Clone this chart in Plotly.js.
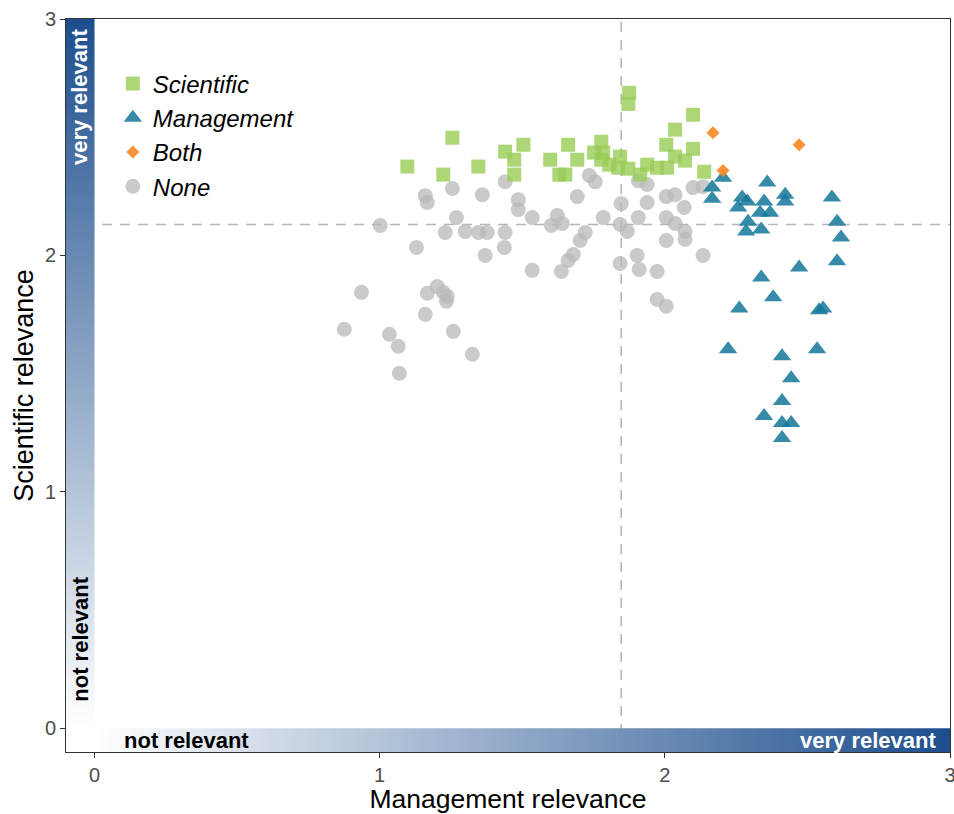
<!DOCTYPE html>
<html><head><meta charset="utf-8">
<script src="https://cdn.plot.ly/plotly-3.0.1.min.js"></script>
<style>html,body{margin:0;padding:0;background:#fff}#chart{width:954px;height:814px}</style>
</head><body><div id="chart"></div>
<script>
// Scientific relevance only (green squares)
const sciX=[1.097,1.255,1.223,1.346,1.440,1.504,1.472,1.472,1.598,1.661,1.693,1.630,1.651,1.777,1.752,1.784,1.777,1.805,1.843,1.836,1.872,1.914,1.938,1.973,2.008,2.036,2.071,2.099,2.036,2.005,2.099,2.138,1.875,1.872];
const sciY=[2.376,2.498,2.342,2.376,2.439,2.468,2.405,2.342,2.405,2.468,2.405,2.342,2.342,2.481,2.435,2.435,2.405,2.384,2.418,2.371,2.367,2.342,2.384,2.371,2.371,2.418,2.401,2.451,2.532,2.468,2.595,2.354,2.688,2.641];
// Management relevance only (blue triangles)
const mgmtX=[2.204,2.166,2.166,2.359,2.271,2.289,2.257,2.348,2.422,2.422,2.334,2.369,2.292,2.285,2.338,2.586,2.604,2.618,2.604,2.471,2.338,2.380,2.261,2.541,2.555,2.222,2.411,2.534,2.443,2.411,2.348,2.411,2.443,2.411];
const mgmtY=[2.329,2.287,2.240,2.308,2.245,2.228,2.203,2.228,2.257,2.228,2.181,2.181,2.143,2.101,2.110,2.245,2.143,2.076,1.975,1.949,1.907,1.823,1.776,1.768,1.776,1.603,1.574,1.603,1.481,1.384,1.321,1.291,1.291,1.228];
// Both (orange diamonds)
const bothX=[2.169,2.471,2.204];
const bothY=[2.519,2.468,2.359];
// None (grey circles)
const noneX=[0.936,0.876,1.034,1.065,1.069,1.167,1.202,1.223,1.237,1.234,1.160,1.258,1.325,1.002,1.160,1.167,1.255,1.360,1.440,1.486,1.486,1.269,1.230,1.300,1.346,1.377,1.440,1.437,1.370,1.129,1.535,1.535,1.602,1.623,1.640,1.693,1.735,1.756,1.784,1.847,1.843,1.868,1.907,1.938,1.907,1.938,2.005,2.036,2.005,2.036,2.068,2.099,2.134,2.071,2.071,2.005,1.721,1.703,1.679,1.661,1.637,1.843,1.903,1.910,1.973,2.134,1.973,2.005];
const noneY=[1.844,1.688,1.667,1.616,1.502,1.840,1.869,1.844,1.827,1.806,1.751,1.679,1.582,2.127,2.253,2.224,2.283,2.257,2.312,2.236,2.194,2.160,2.097,2.101,2.097,2.097,2.097,2.034,2.000,2.034,2.160,1.937,2.127,2.169,2.135,2.249,2.338,2.312,2.160,2.219,2.131,2.101,2.316,2.300,2.160,2.224,2.249,2.257,2.160,2.135,2.203,2.287,2.291,2.101,2.068,2.063,2.097,2.063,2.004,1.979,1.932,1.966,2.000,1.941,1.932,2.000,1.814,1.785];
// reference lines (means)
const meanMgmt=1.847;
const meanSci=2.131;
const tickVals=[0,1,2,3];
const axisRange=[-0.1,3];

const FONT='Liberation Sans, Arial, sans-serif';
const gradScale=[[0,'#ffffff'],[1,'#1d4e8d']];

const lo=axisRange[0], hi=axisRange[1];
const traces=[
  {x:[0,hi,hi,0,0],y:[lo,lo,0,0,lo],mode:'none',fill:'toself',
   fillgradient:{type:'horizontal',colorscale:gradScale},
   showlegend:false,hoverinfo:'skip'},
  {x:[lo,0,0,lo,lo],y:[0,0,hi,hi,0],mode:'none',fill:'toself',
   fillgradient:{type:'vertical',colorscale:gradScale},
   showlegend:false,hoverinfo:'skip'},
  {name:'None',x:noneX,y:noneY,mode:'markers',type:'scatter',legendrank:4,legendgroup:'d',
   marker:{symbol:'circle',size:15,color:'#b8b8b8',opacity:0.75,line:{width:0}}},
  {name:'Scientific',x:sciX,y:sciY,mode:'markers',type:'scatter',legendrank:1,legendgroup:'a',
   marker:{symbol:'square',size:14,color:'#99cc55',opacity:0.8,line:{width:0}}},
  {name:'Management',x:mgmtX,y:mgmtY,mode:'markers',type:'scatter',legendrank:2,legendgroup:'b',
   marker:{symbol:'triangle-up',size:16,color:'#13779a',opacity:0.85,line:{width:0}}},
  {name:'Both',x:bothX,y:bothY,mode:'markers',type:'scatter',legendrank:3,legendgroup:'c',
   marker:{symbol:'diamond',size:10,color:'#fb8c2a',opacity:0.95,line:{width:0}}}
];

const axisCommon={range:axisRange,tickvals:tickVals,ticks:'outside',ticklen:5,tickwidth:1,tickcolor:'#333',
  showgrid:false,zeroline:false,showline:true,mirror:true,linecolor:'#333',linewidth:1,
  ticklabeloverflow:'allow',
  tickfont:{family:FONT,size:20,color:'#4d4d4d'}};

const layout={
  width:954,height:814,
  margin:{l:66,r:4,t:19,b:62},
  paper_bgcolor:'#fff',plot_bgcolor:'#fff',
  font:{family:FONT},
  xaxis:Object.assign({},axisCommon,{title:{text:'Management relevance',font:{family:FONT,size:26.5,color:'#000'},standoff:7}}),
  yaxis:Object.assign({},axisCommon,{title:{text:'Scientific relevance',font:{family:FONT,size:27,color:'#000'},standoff:3}}),
  legend:{x:0.053,y:0.942,xanchor:'left',yanchor:'top',bgcolor:'rgba(0,0,0,0)',
    font:{family:FONT,size:24,color:'#000',style:'italic'},tracegroupgap:0},
  shapes:[
    {type:'line',xref:'x',yref:'paper',x0:meanMgmt,x1:meanMgmt,y0:0,y1:1,layer:'below',
     line:{color:'#b5b5b5',width:1.5,dash:'10px,8px'}},
    {type:'line',xref:'paper',yref:'y',x0:0,x1:1,y0:meanSci,y1:meanSci,layer:'below',
     line:{color:'#b5b5b5',width:1.5,dash:'10px,8px'}}
  ],
  annotations:[
    {x:lo/2,y:2.671,xref:'x',yref:'y',text:'<b>very relevant</b>',textangle:-90,showarrow:false,
     font:{family:FONT,size:22,color:'#fff'}},
    {x:lo/2,y:0.376,xref:'x',yref:'y',text:'<b>not relevant</b>',textangle:-90,showarrow:false,
     font:{family:FONT,size:22,color:'#000'}},
    {x:0.322,y:lo/2,xref:'x',yref:'y',text:'<b>not relevant</b>',showarrow:false,
     font:{family:FONT,size:22,color:'#000'}},
    {x:2.713,y:lo/2,xref:'x',yref:'y',text:'<b>very relevant</b>',showarrow:false,
     font:{family:FONT,size:22,color:'#fff'}}
  ]
};
Plotly.newPlot('chart',traces,layout,{displayModeBar:false,staticPlot:true});
</script></body></html>
